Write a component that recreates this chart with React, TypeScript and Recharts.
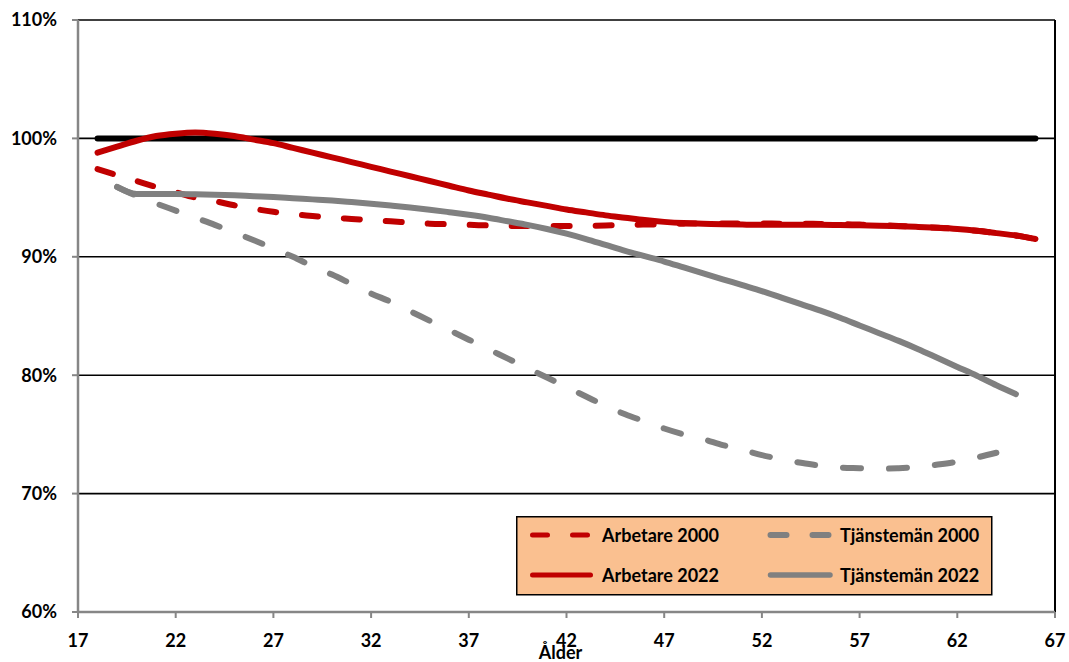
import React from 'react';
import { LineChart, Line, XAxis, YAxis, CartesianGrid, ReferenceLine, Legend } from 'recharts';

const ages = [
  18, 19, 20, 21, 22, 23, 24, 25, 26, 27,
  28, 29, 30, 31, 32, 33, 34, 35, 36, 37,
  38, 39, 40, 41, 42, 43, 44, 45, 46, 47,
  48, 49, 50, 51, 52, 53, 54, 55, 56, 57,
  58, 59, 60, 61, 62, 63, 64, 65, 66,
];

const arbetare2000 = [
  97.4, 96.9, 96.4, 95.9, 95.45, 95.0, 94.7, 94.35, 94.05, 93.8,
  93.6, 93.45, 93.3, 93.2, 93.1, 93.0, 92.9, 92.8, 92.75, 92.7,
  92.65, 92.6, 92.6, 92.6, 92.6, 92.62, 92.65, 92.7, 92.72, 92.75,
  92.8, 92.82, 92.82, 92.82, 92.82, 92.8, 92.8, 92.78, 92.76, 92.72,
  92.68, 92.6, 92.55, 92.45, 92.35, 92.2, 92.0, 91.8, 91.5,
];

const arbetare2022 = [
  98.8, 99.3, 99.8, 100.2, 100.4, 100.5, 100.4, 100.2, 99.9, 99.6,
  99.2, 98.8, 98.4, 98.0, 97.6, 97.2, 96.8, 96.4, 96.0, 95.6,
  95.25, 94.9, 94.6, 94.3, 94.0, 93.75, 93.5, 93.3, 93.1, 92.95,
  92.85, 92.8, 92.75, 92.72, 92.7, 92.7, 92.7, 92.7, 92.68, 92.66,
  92.63, 92.58, 92.52, 92.45, 92.35, 92.2, 92.0, 91.8, 91.5,
];

const tjansteman2000 = [
  null, 95.9, 95.15, 94.5, 93.9, 93.3, 92.7, 92.05, 91.4, 90.7,
  90.0, 89.2, 88.5, 87.7, 86.9, 86.2, 85.4, 84.6, 83.8, 83.0,
  82.2, 81.4, 80.6, 79.8, 79.0, 78.2, 77.4, 76.7, 76.1, 75.5,
  75.0, 74.6, 74.1, 73.7, 73.25, 72.9, 72.6, 72.35, 72.2, 72.15,
  72.1, 72.15, 72.25, 72.45, 72.7, 73.05, 73.45, null, null,
];

const tjansteman2022 = [
  null, 95.9, 95.3, 95.3, 95.3, 95.28, 95.25, 95.2, 95.12, 95.05,
  94.95, 94.85, 94.75, 94.62, 94.48, 94.33, 94.17, 93.98, 93.77, 93.55,
  93.3, 93.0, 92.7, 92.35, 91.95, 91.5, 91.0, 90.5, 90.05, 89.6,
  89.1, 88.6, 88.1, 87.6, 87.1, 86.55, 86.0, 85.45, 84.85, 84.2,
  83.55, 82.9, 82.2, 81.45, 80.7, 79.95, 79.15, 78.4, null,
];

const baselineAges = [18, 66];
const baselineValues = [100, 100];

const xTicks = [17, 22, 27, 32, 37, 42, 47, 52, 57, 62, 67];
const yTicks = [60, 70, 80, 90, 100, 110];

const RED = '#C00000';
const GRAY = '#808080';
const AXIS_GRAY = '#868686';
const FONT = 'Lato, "Open Sans", sans-serif';
const FS = 18;

const rows = ages.map((age, i) => {
  const bIdx = baselineAges.indexOf(age);
  return {
    age,
    a2000: arbetare2000[i],
    a2022: arbetare2022[i],
    t2000: tjansteman2000[i],
    t2022: tjansteman2022[i],
    base: bIdx >= 0 ? baselineValues[bIdx] : null,
  };
});

const legendItems = [
  { name: 'Arbetare 2000', color: RED, dash: '15 25', w: 5, col: 0, row: 0 },
  { name: 'Tjänstemän 2000', color: GRAY, dash: '16 26', w: 6, col: 1, row: 0 },
  { name: 'Arbetare 2022', color: RED, dash: undefined, w: 5, col: 0, row: 1 },
  { name: 'Tjänstemän 2022', color: GRAY, dash: undefined, w: 5.5, col: 1, row: 1 },
];

const LegendBox = () => {
  const colLine = [
    [16.5, 74.5],
    [254.5, 314],
  ];
  const colText = [86, 324];
  const rowY = [19, 59];
  return (
    <svg width={477} height={80} style={{ display: 'block' }}>
      <rect x={0.75} y={0.75} width={475} height={78} fill="#FAC090" stroke="#000" strokeWidth={1.5} />
      {legendItems.map((it) => (
        <g key={it.name}>
          <line
            x1={colLine[it.col][0]}
            x2={colLine[it.col][1]}
            y1={rowY[it.row]}
            y2={rowY[it.row]}
            stroke={it.color}
            strokeWidth={it.w}
            strokeDasharray={it.dash}
            strokeLinecap="round"
          />
          <text
            x={colText[it.col]}
            y={rowY[it.row] + 6.5}
            fontFamily={FONT}
            fontWeight={700}
            fontSize={FS}
            fill="#000"
          >
            {it.name}
          </text>
        </g>
      ))}
    </svg>
  );
};

const tickStyle = { fill: '#000', fontSize: FS, fontWeight: 700, fontFamily: FONT };

export default function App() {
  return (
    <div style={{ width: 1069, height: 662, background: '#fff' }}>
      <style>{'body{margin:0;}'}</style>
      <LineChart width={1069} height={662} data={rows} margin={{ top: 20, right: 14, bottom: 0, left: 0 }}>
        <CartesianGrid vertical={false} stroke="#000" strokeWidth={1.6} />
        <XAxis
          dataKey="age"
          type="number"
          domain={[17, 67]}
          ticks={xTicks}
          interval={0}
          height={50}
          axisLine={{ stroke: AXIS_GRAY, strokeWidth: 2.5 }}
          tickLine={{ stroke: AXIS_GRAY, strokeWidth: 2 }}
          tickSize={6}
          tickMargin={16}
          tick={tickStyle}
          label={{
            value: 'Ålder',
            position: 'insideBottom',
            offset: 3,
            dx: -6,
            fill: '#000',
            fontSize: FS,
            fontWeight: 700,
            fontFamily: FONT,
          }}
        />
        <YAxis
          type="number"
          domain={[60, 110]}
          ticks={yTicks}
          interval={0}
          width={78}
          tickFormatter={(v) => `${v}%`}
          axisLine={{ stroke: AXIS_GRAY, strokeWidth: 2.5 }}
          tickLine={{ stroke: AXIS_GRAY, strokeWidth: 2 }}
          tickSize={6}
          tickMargin={15}
          tick={tickStyle}
        />
        <ReferenceLine x={67} stroke="#000" strokeWidth={2} />
        <Legend
          layout="vertical"
          verticalAlign="middle"
          align="center"
          wrapperStyle={{ left: 516, top: 516, width: 477, height: 80 }}
          content={() => <LegendBox />}
        />
        <Line
          dataKey="base"
          name="base"
          stroke="#000"
          strokeWidth={6}
          strokeLinecap="round"
          dot={false}
          connectNulls
          legendType="none"
          isAnimationActive={false}
        />
        <Line
          type="monotone"
          dataKey="a2000"
          name="Arbetare 2000"
          stroke={RED}
          strokeWidth={6}
          strokeDasharray="16 26"
          strokeLinecap="round"
          dot={false}
          isAnimationActive={false}
        />
        <Line
          type="monotone"
          dataKey="a2022"
          name="Arbetare 2022"
          stroke={RED}
          strokeWidth={6}
          strokeLinecap="round"
          dot={false}
          isAnimationActive={false}
        />
        <Line
          type="monotone"
          dataKey="t2000"
          name="Tjänstemän 2000"
          stroke={GRAY}
          strokeWidth={6}
          strokeDasharray="18 28"
          strokeLinecap="round"
          dot={false}
          isAnimationActive={false}
        />
        <Line
          type="monotone"
          dataKey="t2022"
          name="Tjänstemän 2022"
          stroke={GRAY}
          strokeWidth={6}
          strokeLinecap="round"
          dot={false}
          isAnimationActive={false}
        />
      </LineChart>
    </div>
  );
}
